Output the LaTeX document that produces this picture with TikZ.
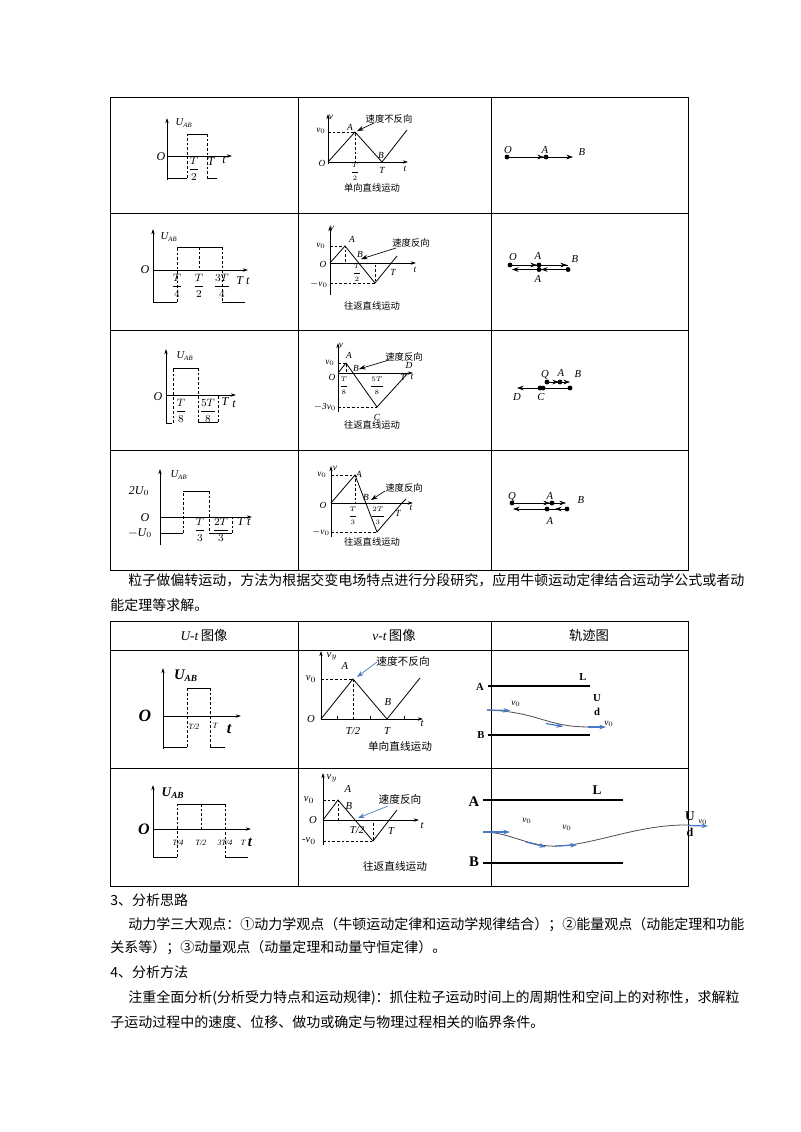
\documentclass[tikz,border=0pt]{standalone}
\usepackage{fontspec}
\setmainfont{Liberation Serif}
\newfontfamily\cjk{Noto Sans CJK SC}
\usetikzlibrary{arrows.meta}
\newcommand{\fr}[2]{$\displaystyle\frac{#1}{#2}$}
\begin{document}
\begin{tikzpicture}[x=0.75pt,y=-0.75pt,
 ax/.style={-{Stealth[length=4pt,width=2.5pt]},line width=0.5pt},
 ln/.style={line width=0.6pt},
 dsh/.style={dashed,line width=0.45pt,dash pattern=on 2pt off 1.5pt},
 lb/.style={font=\fontsize{7}{8}\selectfont\itshape,inner sep=0.5pt},
 fs/.style={font=\fontsize{5.5}{6}\selectfont\itshape,inner sep=0.3pt},
 lbb/.style={font=\fontsize{9}{10}\selectfont\bfseries\itshape,inner sep=0.5pt},
 cn/.style={font=\fontsize{7}{8}\selectfont\cjk,inner sep=0.5pt},
 cnb/.style={font=\fontsize{8}{9}\selectfont\cjk,inner sep=0.5pt},
 txt/.style={font=\fontsize{10.5}{12}\selectfont\cjk,anchor=west,inner sep=0pt},
 grid/.style={line width=0.6pt},
 dot/.style={circle,fill,inner sep=1.3pt},
 arr/.style={-{Stealth[length=5pt,width=3.5pt]},line width=0.5pt},
 blue/.style={color={rgb,255:red,70;green,120;blue,200}},
 plate/.style={line width=1.8pt}]
\useasboundingbox (0,0) rectangle (800,1132);
\fill[white] (0,0) rectangle (800,1132);
% ===== table 1 grid
\draw[grid] (110,97) rectangle (688,570);
\foreach \y in {213,330,450} \draw[grid] (110,\y) -- (688,\y);
\foreach \x in {298,491} {\draw[grid] (\x,97) -- (\x,570); \draw[grid] (\x,621) -- (\x,886);}
% ===== table 2 grid
\draw[grid] (110,621) rectangle (688,886);
\foreach \y in {650,768} \draw[grid] (110,\y) -- (688,\y);
\node[font=\fontsize{10}{12}\selectfont] (h1) at (204,635) {\textit{U-t}\,{\cjk 图像}};
\node[font=\fontsize{10}{12}\selectfont] (h2) at (394,635) {\textit{v-t}\,{\cjk 图像}};
\node[font=\fontsize{10}{12}\selectfont\cjk] (h3) at (589,635) {轨迹图};

% ================= ROW 1 =================
\draw[ax] (167,180) -- (167,118);
\draw[ax] (167,156) -- (232,156);
\draw[ln] (167,178) -- (187,178);
\draw[dsh] (187,178) -- (187,134);
\draw[ln] (187,134) -- (207,134);
\draw[dsh] (207,134) -- (207,178);
\draw[ln] (207,178) -- (217,178);
\node[lb,font=\fontsize{8}{9}\selectfont\itshape] (r1u) at (184,123) {U\textsubscript{\tiny AB}};
\node[lb,font=\fontsize{9}{9}\selectfont\itshape] at (161,157) {O};
\node[lb,font=\fontsize{8}{9}\selectfont\itshape] at (194,169) {\fr{T}{2}};
\node[lb,font=\fontsize{9}{9}\selectfont\itshape] at (211,162) {T};
\node[lb,font=\fontsize{9}{9}\selectfont\itshape] at (224,160) {t};
% vt
\draw[ax] (328,164) -- (328,114);
\draw[ax] (328,162) -- (408,162);
\draw[ln] (328,162) -- (355,132) -- (382,162) -- (407,130);
\draw[dsh] (328,132) -- (355,132) -- (355,162);
\node[lb] at (331,117) {v};
\node[lb] at (321,131) {v$_0$};
\node[lb] at (350,127) {A};
\node[lb] at (381,155) {B};
\node[lb] at (322,163) {O};
\node[fs] at (355,172) {\fr{T}{2}};
\node[lb] at (382,170) {T};
\node[lb] at (405,169) {t};
\node[cn] (r1c) at (389,119) {速度不反向};
\draw[arr] (374,123) -- (357,131);
\node[cn] at (372,188) {单向直线运动};
% traj
\draw[ln] (507,157) -- (546,157);
\draw[arr] (530,157) -- (544,157);
\draw[arr] (546,157) -- (573,157);
\node[dot] (o1) at (507,157) {};
\node[dot] (a1) at (546,157) {};
\node[lb,font=\fontsize{8}{9}\selectfont\itshape] at (508,150) {O};
\node[lb,font=\fontsize{8}{9}\selectfont\itshape] at (545,150) {A};
\node[lb,font=\fontsize{8}{9}\selectfont\itshape] at (582,152) {B};

% ================= ROW 2 =================
\draw[ax] (153,303) -- (153,229);
\draw[ax] (153,270) -- (248,270);
\draw[ln] (153,302) -- (177,302);
\draw[dsh] (177,302) -- (177,247);
\draw[ln] (177,247) -- (222,247);
\draw[dsh] (199.5,247) -- (199.5,270);
\draw[dsh] (222,247) -- (222,302);
\draw[ln] (222,302) -- (245,302);
\node[lb,font=\fontsize{8}{9}\selectfont\itshape] at (169,237) {U\textsubscript{\tiny AB}};
\node[lb,font=\fontsize{9}{9}\selectfont\itshape] at (145,270) {O};
\node[lb,font=\fontsize{8}{9}\selectfont\itshape] at (177,286) {\fr{T}{4}};
\node[lb,font=\fontsize{8}{9}\selectfont\itshape] at (199,286) {\fr{T}{2}};
\node[lb,font=\fontsize{8}{9}\selectfont\itshape] at (222,286) {\fr{3T}{4}};
\node[lb,font=\fontsize{9}{9}\selectfont\itshape] at (243,281) {T t};
% vt
\draw[ax] (330,295) -- (330,226);
\draw[ax] (330,263) -- (416,263);
\draw[ln] (330,263) -- (345,246) -- (375,283) -- (397,256);
\draw[dsh] (330,246) -- (345,246) -- (345,263);
\draw[dsh] (330,283) -- (375,283) -- (375,263);
\node[lb] at (332,228) {v};
\node[lb] at (321,246) {v$_0$};
\node[lb] at (319,284) {$-$v$_0$};
\node[lb] at (352,239) {A};
\node[lb] at (360,254) {B};
\node[lb] at (323,264) {O};
\node[fs] at (357,273) {\fr{T}{2}};
\node[lb] at (393,272) {T};
\node[lb] at (415,270) {t};
\node[cn] at (411,243) {速度反向};
\draw[arr] (396,248) -- (361,259);
\node[cn] at (372,306) {往返直线运动};
% traj
\draw[ln] (512,265) -- (568,265);
\draw[arr] (525,265) -- (537,265);
\draw[arr] (545,265) -- (567,265);
\draw[arr] (568,269.5) -- (512,269.5);
\draw[arr] (560,269.5) -- (541,269.5);
\node[dot] at (510,265) {};
\node[dot] at (539,265) {};
\node[dot] at (539,269.5) {};
\node[dot] at (568,269.5) {};
\node[lb,font=\fontsize{8}{9}\selectfont\itshape] at (513,257) {O};
\node[lb,font=\fontsize{8}{9}\selectfont\itshape] at (538,256) {A};
\node[lb,font=\fontsize{8}{9}\selectfont\itshape] at (575,259) {B};
\node[lb,font=\fontsize{8}{9}\selectfont\itshape] at (538,279) {A};

% ================= ROW 3 =================
\draw[ax] (166,424) -- (166,349);
\draw[ax] (166,395) -- (236,395);
\draw[ln] (166,423) -- (172,423);
\draw[dsh] (173,423) -- (173,368);
\draw[ln] (173,368) -- (198,368);
\draw[dsh] (198,368) -- (198,422);
\draw[ln] (198,422) -- (218,422);
\draw[dsh] (218,422) -- (218,395);
\node[lb,font=\fontsize{8}{9}\selectfont\itshape] at (185,356) {U\textsubscript{\tiny AB}};
\node[lb,font=\fontsize{9}{9}\selectfont\itshape] at (158,397) {O};
\node[lb,font=\fontsize{8}{9}\selectfont\itshape] at (181,411) {\fr{T}{8}};
\node[lb,font=\fontsize{8}{9}\selectfont\itshape] at (208,411) {\fr{5T}{8}};
\node[lb,font=\fontsize{9}{9}\selectfont\itshape] at (225,402) {T};
\node[lb,font=\fontsize{9}{9}\selectfont\itshape] at (234,404) {t};
% vt
\draw[ax] (338,412) -- (338,343);
\draw[ax] (338,373) -- (413,373);
\draw[ln] (338,373) -- (346,363) -- (377,407) -- (408,373);
\draw[dsh] (338,363) -- (346,363) -- (346,373);
\draw[dsh] (338,407) -- (377,407);
\node[lb] at (341,345) {v};
\node[lb] at (330,363) {v$_0$};
\node[lb] at (349,355) {A};
\node[lb] at (356,368) {B};
\node[lb] at (409,365) {D};
\node[lb] at (332,377) {O};
\node[fs] at (344,386) {\fr{T}{8}};
\node[fs] at (377,386) {\fr{5T}{8}};
\node[lb] at (403,377) {T};
\node[lb] at (412,377) {t};
\node[lb] at (325,407) {$-$3v$_0$};
\node[lb] at (377,417) {C};
\node[cn] at (404,357) {速度反向};
\draw[arr] (389,360) -- (359,369);
\node[cn] at (372,425) {往返直线运动};
% traj
\draw[ln] (547,382) -- (560,382);
\draw[arr] (550,382) -- (559,382);
\draw[arr] (560,382) -- (570,382);
\draw[arr] (570,388) -- (517,388);
\node[dot] at (547,382) {};
\node[dot] at (560,382) {};
\node[dot] at (570,388) {};
\node[dot] at (543,388) {};
\node[dot] at (540,388) {};
\node[lb,font=\fontsize{8}{9}\selectfont\itshape] at (545,375) {Q};
\node[lb,font=\fontsize{8}{9}\selectfont\itshape] at (561,373) {A};
\node[lb,font=\fontsize{8}{9}\selectfont\itshape] at (578,374) {B};
\node[lb,font=\fontsize{8}{9}\selectfont\itshape] at (517,397) {D};
\node[lb,font=\fontsize{8}{9}\selectfont\itshape] at (541,397) {C};

% ================= ROW 4 =================
\draw[ax] (160,545) -- (160,469);
\draw[ax] (160,517) -- (252,517);
\draw[ln] (160,533) -- (183,533);
\draw[dsh] (183,533) -- (183,491);
\draw[ln] (183,491) -- (209,491);
\draw[dsh] (209,491) -- (209,533);
\draw[ln] (209,533) -- (232,533);
\draw[dsh] (232,533) -- (232,517);
\node[lb,font=\fontsize{8}{9}\selectfont\itshape] at (179,475) {U\textsubscript{\tiny AB}};
\node[lb,font=\fontsize{9}{9}\selectfont\itshape] at (139,491) {2U$_0$};
\node[lb,font=\fontsize{9}{9}\selectfont\itshape] at (145,518) {O};
\node[lb,font=\fontsize{9}{9}\selectfont\itshape] at (140,533) {$-$U$_0$};
\node[lb,font=\fontsize{8}{9}\selectfont\itshape] at (200,530) {\fr{T}{3}};
\node[lb,font=\fontsize{8}{9}\selectfont\itshape] at (221,530) {\fr{2T}{3}};
\node[lb,font=\fontsize{9}{9}\selectfont\itshape] at (244,522) {T t};
% vt
\draw[ax] (331,537) -- (331,466);
\draw[ax] (331,503) -- (413,503);
\draw[ln] (331,503) -- (355,475) -- (377,532) -- (402,503) -- (406,499);
\draw[dsh] (331,475) -- (355,475) -- (355,503);
\draw[dsh] (331,532) -- (377,532);
\node[lb] at (335,468) {v};
\node[lb] at (322,475) {v$_0$};
\node[lb] at (359,474) {A};
\node[lb] at (366,497) {B};
\node[lb] at (323,505) {O};
\node[fs] at (353,516) {\fr{T}{3}};
\node[fs] at (378,516) {\fr{2T}{3}};
\node[lb] at (398,513) {T};
\node[lb] at (411,508) {t};
\node[lb] at (321,532) {$-$v$_0$};
\node[cn] at (404,488) {速度反向};
\draw[arr] (385,491) -- (371,500);
\node[cn] at (372,542) {往返直线运动};
% traj
\draw[ln] (512,503) -- (552,503);
\draw[arr] (530,503) -- (550,503);
\draw[arr] (552,503) -- (566,503);
\draw[arr] (567,509) -- (513,509);
\draw[arr] (567,509) -- (555,509);
\node[dot] at (512,503) {};
\node[dot] at (552,503) {};
\node[dot] at (567,509) {};
\node[dot] at (547,509) {};
\node[lb,font=\fontsize{8}{9}\selectfont\itshape] at (512,497) {Q};
\node[lb,font=\fontsize{8}{9}\selectfont\itshape] at (550,496) {A};
\node[lb,font=\fontsize{8}{9}\selectfont\itshape] at (581,500) {B};
\node[lb,font=\fontsize{8}{9}\selectfont\itshape] at (550,521) {A};

% ===== paragraph
\node[txt] at (128,580) {粒子做偏转运动，方法为根据交变电场特点进行分段研究，应用牛顿运动定律结合运动学公式或者动};
\node[txt] at (110,605) {能定理等求解。};

% ================= TABLE 2 ROW 1 =================
\draw[ax] (163,749) -- (163,668);
\draw[ax] (163,716) -- (241,716);
\draw[ln] (163,747) -- (187,747);
\draw[dsh] (187,747) -- (187,688);
\draw[ln] (187,688) -- (210,688);
\draw[dsh] (210,688) -- (210,747);
\draw[ln] (210,747) -- (225,747);
\node[lbb,font=\fontsize{11}{11}\selectfont\bfseries\itshape] at (186,676) {U\textsubscript{\scriptsize AB}};
\node[lbb,font=\fontsize{13}{13}\selectfont\bfseries\itshape] at (145,716) {O};
\node[lb,font=\fontsize{6}{7}\selectfont\itshape] at (194,727) {T/2};
\node[lb,font=\fontsize{6}{7}\selectfont\itshape] at (215,726) {T};
\node[lbb,font=\fontsize{12}{12}\selectfont\bfseries\itshape] at (229,729) {t};
% vt
\draw[ax] (321,719) -- (321,651);
\draw[ax] (321,719) -- (423,719);
\draw[ln] (321,719) -- (353,679) -- (387,719) -- (420,678);
\draw[dsh] (321,679) -- (353,679) -- (353,719);
\foreach \x in {337,370,404} \draw[ln] (\x,719) -- (\x,716);
\node[lb,font=\fontsize{8}{9}\selectfont\itshape] at (332,656) {v$_y$};
\node[lb,font=\fontsize{8}{9}\selectfont\itshape] at (345,666) {A};
\node[lb,font=\fontsize{8}{9}\selectfont\itshape] at (311,679) {v$_0$};
\node[lb,font=\fontsize{8}{9}\selectfont\itshape] at (388,702) {B};
\node[lb,font=\fontsize{8}{9}\selectfont\itshape] at (311,719) {O};
\node[lb,font=\fontsize{8}{9}\selectfont\itshape] at (353,731) {T/2};
\node[lb,font=\fontsize{8}{9}\selectfont\itshape] at (387,731) {T};
\node[lb,font=\fontsize{8}{9}\selectfont\itshape] at (422,724) {t};
\node[cnb] at (403,661) {速度不反向};
\draw[arr,blue] (377,662) -- (357,677);
\node[cnb] at (400,746) {单向直线运动};
% traj
\draw[plate,line width=1.4pt] (488,686) -- (590,686);
\draw[plate,line width=1.4pt] (488,735) -- (590,735);
\node[font=\fontsize{8}{9}\selectfont\bfseries] at (583,677) {L};
\node[font=\fontsize{8}{9}\selectfont\bfseries] at (480,687) {A};
\node[font=\fontsize{8}{9}\selectfont\bfseries] at (481,735) {B};
\node[font=\fontsize{8}{9}\selectfont\bfseries] at (597,698) {U};
\node[font=\fontsize{8}{9}\selectfont\bfseries] at (597,712) {d};
\draw[line width=0.6pt,color=gray!60!black] (487,710) .. controls (540,712) and (545,727) .. (590,727);
\draw[arr,blue,line width=0.9pt] (487,710) -- (510,710.5);
\draw[arr,blue,line width=0.9pt] (546,723.5) -- (563,726.5);
\draw[arr,blue,line width=0.9pt] (588,727) -- (606,727);
\node[lb,font=\fontsize{7}{8}\selectfont\itshape] at (516,704) {v$_0$};
\node[lb,font=\fontsize{7}{8}\selectfont\itshape] at (609,724) {v$_0$};

% ================= TABLE 2 ROW 2 =================
\draw[ax] (153,857) -- (153,785);
\draw[ax] (153,829) -- (251,829);
\draw[ln] (153,857) -- (177,857);
\draw[dsh] (177,857) -- (177,804);
\draw[ln] (177,804) -- (225,804);
\draw[dsh] (201,804) -- (201,829);
\draw[dsh] (225,804) -- (225,857);
\draw[ln] (225,857) -- (248,857);
\node[lbb,font=\fontsize{10}{10}\selectfont\bfseries\itshape] at (173,793) {U\textsubscript{\scriptsize AB}};
\node[lbb,font=\fontsize{12}{12}\selectfont\bfseries\itshape] at (144,829) {O};
\node[lb,font=\fontsize{6}{7}\selectfont\itshape] at (178,843) {T/4};
\node[lb,font=\fontsize{6}{7}\selectfont\itshape] at (201,843) {T/2};
\node[lb,font=\fontsize{6}{7}\selectfont\itshape] at (225,843) {3T/4};
\node[lb,font=\fontsize{6}{7}\selectfont\itshape] at (243,843) {T};
\node[lbb,font=\fontsize{11}{11}\selectfont\bfseries\itshape] at (250,842) {t};
% vt
\draw[ax] (323,845) -- (323,773);
\draw[ax] (323,820) -- (419,820);
\draw[ln] (323,820) -- (338,800) -- (373,841) -- (397,810);
\draw[dsh] (323,800) -- (338,800) -- (338,820);
\draw[dsh] (323,841) -- (373,841) -- (373,820);
\node[lb,font=\fontsize{8}{9}\selectfont\itshape] at (332,778) {v$_y$};
\node[lb,font=\fontsize{8}{9}\selectfont\itshape] at (348,789) {A};
\node[lb,font=\fontsize{8}{9}\selectfont\itshape] at (349,806) {B};
\node[lb,font=\fontsize{8}{9}\selectfont\itshape] at (309,800) {v$_0$};
\node[lb,font=\fontsize{8}{9}\selectfont\itshape] at (313,820) {O};
\node[lb,font=\fontsize{8}{9}\selectfont\itshape] at (357,830) {T/2};
\node[lb,font=\fontsize{8}{9}\selectfont\itshape] at (391,831) {T};
\node[lb,font=\fontsize{8}{9}\selectfont\itshape] at (422,826) {t};
\node[lb,font=\fontsize{8}{9}\selectfont\itshape] at (309,841) {-v$_0$};
\node[cnb] at (400,799) {速度反向};
\draw[arr,blue] (388,806) -- (358,818);
\node[cnb] at (395,866) {往返直线运动};
% traj
\draw[plate] (483,800) -- (623,800);
\draw[plate] (483,863) -- (623,863);
\node[font=\fontsize{10}{11}\selectfont\bfseries] at (597,790) {L};
\node[font=\fontsize{11}{12}\selectfont\bfseries] at (474,802) {A};
\node[font=\fontsize{11}{12}\selectfont\bfseries] at (474,862) {B};
\node[font=\fontsize{10}{11}\selectfont\bfseries] at (690,816) {U};
\node[font=\fontsize{9}{10}\selectfont\bfseries] at (690,832) {d};
\draw[line width=0.6pt,color=gray!60!black] (483,832) .. controls (510,832) and (530,848) .. (560,846) .. controls (600,843) and (640,824) .. (690,825);
\draw[arr,blue,line width=0.9pt] (483,832) -- (510,832);
\draw[arr,blue,line width=0.9pt] (526,842) -- (546,847);
\draw[arr,blue,line width=0.9pt] (555,846) -- (577,845);
\draw[arr,blue,line width=0.9pt] (688,825.5) -- (708,826);
\node[lb,font=\fontsize{7}{8}\selectfont\itshape] at (527,821) {v$_0$};
\node[lb,font=\fontsize{7}{8}\selectfont\itshape] at (567,828) {v$_0$};
\node[lb,font=\fontsize{6}{7}\selectfont\itshape] at (703,822) {v$_0$};

% ===== bottom text
\node[txt] at (110,900) {3、分析思路};
\node[txt] at (128,925) {动力学三大观点：①动力学观点（牛顿运动定律和运动学规律结合）；②能量观点（动能定理和功能};
\node[txt] at (110,948) {关系等）；③动量观点（动量定理和动量守恒定律）。};
\node[txt] at (110,972) {4、分析方法};
\node[txt] at (128,998) {注重全面分析(分析受力特点和运动规律)：抓住粒子运动时间上的周期性和空间上的对称性，求解粒};
\node[txt] at (110,1022) {子运动过程中的速度、位移、做功或确定与物理过程相关的临界条件。};
\end{tikzpicture}
\end{document}
